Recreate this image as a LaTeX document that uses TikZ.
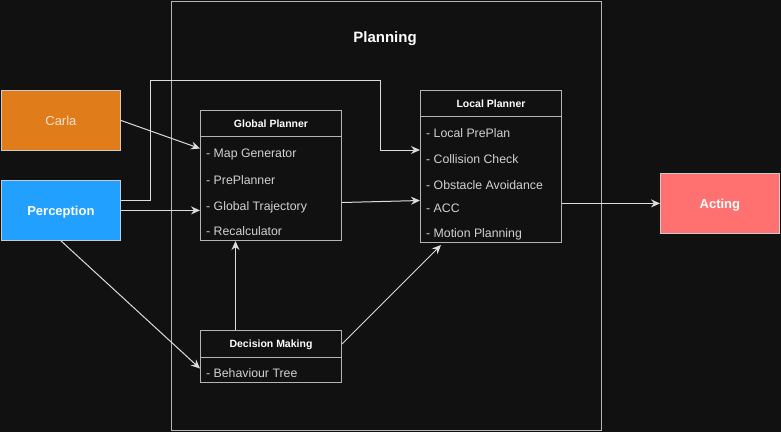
\documentclass[tikz,border=0pt]{standalone}
\usepackage{fontspec}
\setmainfont{Liberation Sans}
\usetikzlibrary{arrows.meta}
\definecolor{bg}{HTML}{111111}
\definecolor{boxc}{HTML}{B4B4B4}
\definecolor{linec}{HTML}{DCDCDC}
\definecolor{itemc}{HTML}{D2D2D2}
\definecolor{carlaf}{HTML}{E07C1A}
\definecolor{percf}{HTML}{22A0FF}
\definecolor{actf}{HTML}{FF7070}
\definecolor{carlat}{HTML}{F4E2D0}
\begin{document}
\begin{tikzpicture}[x=1pt,y=-1pt,
  box/.style={draw=boxc, line width=1pt, inner sep=0pt, anchor=north west},
  hdr/.style={box, minimum width=141pt, font=\bfseries\fontsize{10.5}{12}\selectfont, text=white, text height=7.5pt, text depth=0pt},
  body/.style={box, minimum width=141pt},
  item/.style={anchor=base west, inner sep=0pt, font=\fontsize{12.3}{14}\selectfont, text=itemc},
  colbox/.style={draw=boxc!70!white, line width=0.8pt, anchor=north west, minimum width=119pt, minimum height=60pt, inner sep=0pt, font=\fontsize{13}{15}\selectfont, text height=9.3pt, text depth=0pt},
  conn/.style={draw=linec, line width=1pt, -{Stealth[length=9pt,width=8pt,inset=3pt]}}
]
\fill[bg] (0,0) rectangle (781,432);
\useasboundingbox (0,0) rectangle (781,432);

% Planning frame
\node[box, minimum width=430pt, minimum height=429pt] (plan) at (171,1) {};
\node[font=\bfseries\fontsize{15}{17}\selectfont, text=white, text height=10.7pt, text depth=0pt] (plantitle) at (385,37) {Planning};

% Colored boxes
\node[colbox, fill=carlaf, text=carlat] (carla) at (1,90) {Carla};
\node[colbox, fill=percf, text=white, font=\bfseries\fontsize{13}{15}\selectfont] (perc) at (1,180) {Perception};
\node[colbox, fill=actf, text=white, font=\bfseries\fontsize{13}{15}\selectfont] (acting) at (660,173) {Acting};

% Global Planner
\node[hdr, minimum height=26pt] (gph) at (200,110) {Global Planner};
\node[body, minimum height=104pt] (gpb) at (200,136) {};
\node[item] (gp1) at (206,157.5) {- Map Generator};
\node[item] (gp2) at (206,184) {- PrePlanner};
\node[item] (gp3) at (206,210) {- Global Trajectory};
\node[item] (gp4) at (206,235.5) {- Recalculator};

% Local Planner
\node[hdr, minimum height=26pt] (lph) at (420,90) {Local Planner};
\node[body, minimum height=126pt] (lpb) at (420,116) {};
\node[item] (lp1) at (426,137.5) {- Local PrePlan};
\node[item] (lp2) at (426,163.5) {- Collision Check};
\node[item] (lp3) at (426,189.5) {- Obstacle Avoidance};
\node[item] (lp4) at (426,212) {- ACC};
\node[item] (lp5) at (426,237.5) {- Motion Planning};

% Decision Making
\node[hdr, minimum height=27pt] (dmh) at (200,330) {Decision Making};
\node[body, minimum height=25pt] (dmb) at (200,357) {};
\node[item] (dm1) at (206,377.5) {- Behaviour Tree};

% Connectors
\coordinate (c1) at (150,80);
\coordinate (c3) at (380,150);
\draw[conn] (carla.east) -- ([yshift=40pt]gpb.west);
\draw[conn] (perc.east) -- (perc.east -| gpb.west);
\draw[conn] ([yshift=10pt]perc.east) -| (c1) -| (c3) -- (c3 -| lpb.west);
\draw[conn] (perc.south) -- ([yshift=1.5pt]dmb.west);
\draw[conn] ([xshift=-35.5pt]dmh.north) -- ([xshift=-35.5pt]gpb.south);
\draw[conn] (dmh.east) -- ([xshift=-50pt,yshift=-2pt]lpb.south);
\draw[conn] ([yshift=-14pt]gpb.east) -- ([yshift=-21pt]lpb.west);
\draw[conn] (acting.west -| lpb.east) -- (acting.west);
\end{tikzpicture}
\end{document}
